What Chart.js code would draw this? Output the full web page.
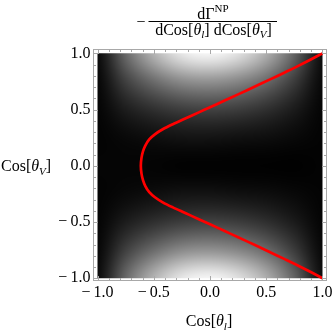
<!DOCTYPE html>
<html>
<head>
<meta charset="utf-8">
<script src="https://cdn.jsdelivr.net/npm/chart.js@4/dist/chart.umd.min.js"></script>
<style>
  html, body { margin: 0; padding: 0; background: #fff; }
</style>
</head>
<body>
<canvas id="chart" width="332" height="331"></canvas>
<script>
/* Density plot of -dΓ^NP / dCos[θl] dCos[θV] with a red contour */

// grid nodes of the density map (gray level, 0 = black, 1 = white)
const gridX = [-1, -0.75, -0.5, -0.25, 0, 0.25, 0.5, 0.75, 1];
const gridY = [1, 0.75, 0.5, 0.25, 0, -0.25, -0.5, -0.75, -1];
const grayRows = [
  [0.02, 0.42, 0.72, 0.93, 0.99, 0.90, 0.70, 0.40, 0.03],
  [0.01, 0.25, 0.42, 0.54, 0.57, 0.52, 0.41, 0.23, 0.02],
  [0.01, 0.11, 0.18, 0.23, 0.25, 0.23, 0.18, 0.10, 0.01],
  [0.01, 0.03, 0.05, 0.07, 0.07, 0.06, 0.05, 0.03, 0.01],
  [0.02, 0.02, 0.01, 0.00, 0.00, 0.00, 0.00, 0.00, 0.01],
  [0.01, 0.03, 0.05, 0.07, 0.07, 0.06, 0.05, 0.03, 0.01],
  [0.01, 0.11, 0.18, 0.23, 0.25, 0.23, 0.18, 0.10, 0.01],
  [0.01, 0.25, 0.42, 0.54, 0.57, 0.52, 0.41, 0.23, 0.02],
  [0.02, 0.42, 0.72, 0.93, 0.99, 0.90, 0.70, 0.40, 0.03]
];

// red contour, bottom to top
const curveX = [1.0, 0.9, 0.78, 0.66, 0.53, 0.4, 0.25, 0.13, 0.0, -0.10, -0.22, -0.33, -0.42, -0.49, -0.54, -0.575, -0.595, -0.609,
  -0.615, -0.609, -0.595, -0.575, -0.54, -0.49, -0.42, -0.33, -0.22, -0.10, 0.0, 0.13, 0.25, 0.4, 0.53, 0.66, 0.78, 0.9, 1.0];
const curveY = [-1.0, -0.947, -0.886, -0.828, -0.766, -0.705, -0.635, -0.58, -0.52, -0.475, -0.42, -0.37, -0.325, -0.28, -0.235, -0.18, -0.13, -0.07,
  0, 0.07, 0.13, 0.18, 0.235, 0.28, 0.325, 0.37, 0.42, 0.475, 0.52, 0.58, 0.635, 0.705, 0.766, 0.828, 0.886, 0.947, 1.0];

const majorTicks = [-1, -0.5, 0, 0.5, 1];
const minorTicks = [-0.9, -0.8, -0.7, -0.6, -0.4, -0.3, -0.2, -0.1, 0.1, 0.2, 0.3, 0.4, 0.6, 0.7, 0.8, 0.9];

const SERIF = '"Liberation Serif", "Times New Roman", serif';
const FRAME_COLOR = '#a8a8a8';
const TEXT_SIZE = 16;
const SUB_SIZE = 11;

function formatTick(v) {
  return (v < 0 ? '\u2212\u2009' : '') + Math.abs(v).toFixed(1);
}

// small bitmap with one pixel per grid node
function buildDensityImage() {
  const img = document.createElement('canvas');
  img.width = gridX.length;
  img.height = gridY.length;
  const ictx = img.getContext('2d');
  const data = ictx.createImageData(img.width, img.height);
  grayRows.forEach((row, j) => {
    row.forEach((g, i) => {
      const k = (j * img.width + i) * 4;
      const c = Math.round(g * 255);
      data.data[k] = c; data.data[k + 1] = c; data.data[k + 2] = c; data.data[k + 3] = 255;
    });
  });
  ictx.putImageData(data, 0, 0);
  return img;
}
const densityImage = buildDensityImage();

const densityPlugin = {
  id: 'density',
  beforeDatasetsDraw(chart) {
    const { ctx, scales: { x, y } } = chart;
    const hx = (gridX[1] - gridX[0]) / 2;
    const hy = (gridY[0] - gridY[1]) / 2;
    const last = gridX.length - 1;
    const left = x.getPixelForValue(gridX[0]);
    const right = x.getPixelForValue(gridX[last]);
    const top = y.getPixelForValue(gridY[0]);
    const bottom = y.getPixelForValue(gridY[gridY.length - 1]);
    ctx.save();
    ctx.beginPath();
    ctx.rect(left, top, right - left, bottom - top);
    ctx.clip();
    ctx.imageSmoothingEnabled = true;
    ctx.imageSmoothingQuality = 'high';
    const x0 = x.getPixelForValue(gridX[0] - hx);
    const x1 = x.getPixelForValue(gridX[last] + hx);
    const y0 = y.getPixelForValue(gridY[0] + hy);
    const y1 = y.getPixelForValue(gridY[gridY.length - 1] - hy);
    ctx.drawImage(densityImage, x0, y0, x1 - x0, y1 - y0);
    ctx.restore();
  }
};

const framePlugin = {
  id: 'frame',
  afterDatasetsDraw(chart) {
    const { ctx, chartArea: a, scales: { x, y } } = chart;
    ctx.save();
    ctx.strokeStyle = FRAME_COLOR;
    ctx.lineWidth = 1;
    ctx.strokeRect(a.left, a.top, a.right - a.left, a.bottom - a.top);
    ctx.beginPath();
    const mark = (vals, len) => {
      vals.forEach(v => {
        const px = Math.round(x.getPixelForValue(v)) + 0.5;
        const py = Math.round(y.getPixelForValue(v)) + 0.5;
        ctx.moveTo(px, a.bottom); ctx.lineTo(px, a.bottom - len);
        ctx.moveTo(px, a.top); ctx.lineTo(px, a.top + len);
        ctx.moveTo(a.left, py); ctx.lineTo(a.left + len, py);
        ctx.moveTo(a.right, py); ctx.lineTo(a.right - len, py);
      });
    };
    mark(majorTicks, 4.5);
    mark(minorTicks, 2.5);
    ctx.stroke();
    ctx.restore();
  }
};

function drawRich(ctx, parts, x, baseline, align) {
  const font = p => (p.italic ? 'italic ' : '') + (p.size || TEXT_SIZE) + 'px ' + SERIF;
  let total = 0;
  parts.forEach(p => { ctx.font = font(p); p.w = ctx.measureText(p.t).width; total += p.w; });
  let cx = align === 'center' ? x - total / 2 : (align === 'right' ? x - total : x);
  parts.forEach(p => {
    ctx.font = font(p);
    ctx.fillText(p.t, cx, baseline + (p.dy || 0));
    cx += p.w;
  });
}

const labelsPlugin = {
  id: 'labels',
  afterDraw(chart) {
    const ctx = chart.ctx;
    ctx.save();
    ctx.fillStyle = '#000';
    ctx.textAlign = 'left';
    ctx.textBaseline = 'alphabetic';

    // title: − dΓ^NP / (dCos[θl] dCos[θV])
    drawRich(ctx, [{ t: '\u2212' }], 141, 27, 'center');
    ctx.strokeStyle = '#000';
    ctx.lineWidth = 1;
    ctx.beginPath();
    ctx.moveTo(148.5, 21.5);
    ctx.lineTo(277, 21.5);
    ctx.stroke();
    drawRich(ctx, [{ t: 'd\u0393' }, { t: 'NP', size: SUB_SIZE, dy: -7 }], 213, 19, 'center');
    drawRich(ctx, [
      { t: 'dCos[' }, { t: '\u03b8', italic: true }, { t: 'l', size: SUB_SIZE, italic: true, dy: 3.5 },
      { t: '] dCos[' }, { t: '\u03b8', italic: true }, { t: 'V', size: SUB_SIZE, italic: true, dy: 3.5 }, { t: ']' }
    ], 213.5, 34.5, 'center');

    // axis titles
    drawRich(ctx, [{ t: 'Cos[' }, { t: '\u03b8', italic: true }, { t: 'V', size: SUB_SIZE, italic: true, dy: 3.5 }, { t: ']' }],
      1, 171, 'left');
    drawRich(ctx, [{ t: 'Cos[' }, { t: '\u03b8', italic: true }, { t: 'l', size: SUB_SIZE, italic: true, dy: 3.5 }, { t: ']' }],
      209, 326, 'center');
    ctx.restore();
  }
};

const tickFont = { family: SERIF, size: TEXT_SIZE };

new Chart(document.getElementById('chart'), {
  type: 'scatter',
  data: {
    datasets: [{
      data: curveX.map((v, i) => ({ x: v, y: curveY[i] })),
      showLine: true,
      borderColor: '#ff0000',
      borderWidth: 2.7,
      pointRadius: 0,
      tension: 0.3,
      fill: false
    }]
  },
  options: {
    responsive: false,
    animation: false,
    events: [],
    layout: { padding: { left: 0, top: 49.5, right: 5.5, bottom: 0 } },
    plugins: {
      legend: { display: false },
      tooltip: { enabled: false }
    },
    scales: {
      x: {
        type: 'linear',
        min: -1.0356,
        max: 1.0356,
        grid: { display: false, drawTicks: false },
        border: { display: false },
        afterBuildTicks: s => { s.ticks = majorTicks.map(v => ({ value: v })); },
        afterFit: s => { s.height = 50.5; s.paddingLeft = 0; s.paddingRight = 0; },
        ticks: { autoSkip: false, maxRotation: 0, padding: 3, color: '#000', font: tickFont, callback: formatTick }
      },
      y: {
        type: 'linear',
        min: -1.02,
        max: 1.034,
        grid: { display: false, drawTicks: false },
        border: { display: false },
        afterBuildTicks: s => { s.ticks = majorTicks.map(v => ({ value: v })); },
        afterFit: s => { s.width = 93.5; s.paddingTop = 0; s.paddingBottom = 0; },
        ticks: { autoSkip: false, padding: 3, color: '#000', font: tickFont, callback: formatTick }
      }
    }
  },
  plugins: [densityPlugin, framePlugin, labelsPlugin]
});
</script>
</body>
</html>
